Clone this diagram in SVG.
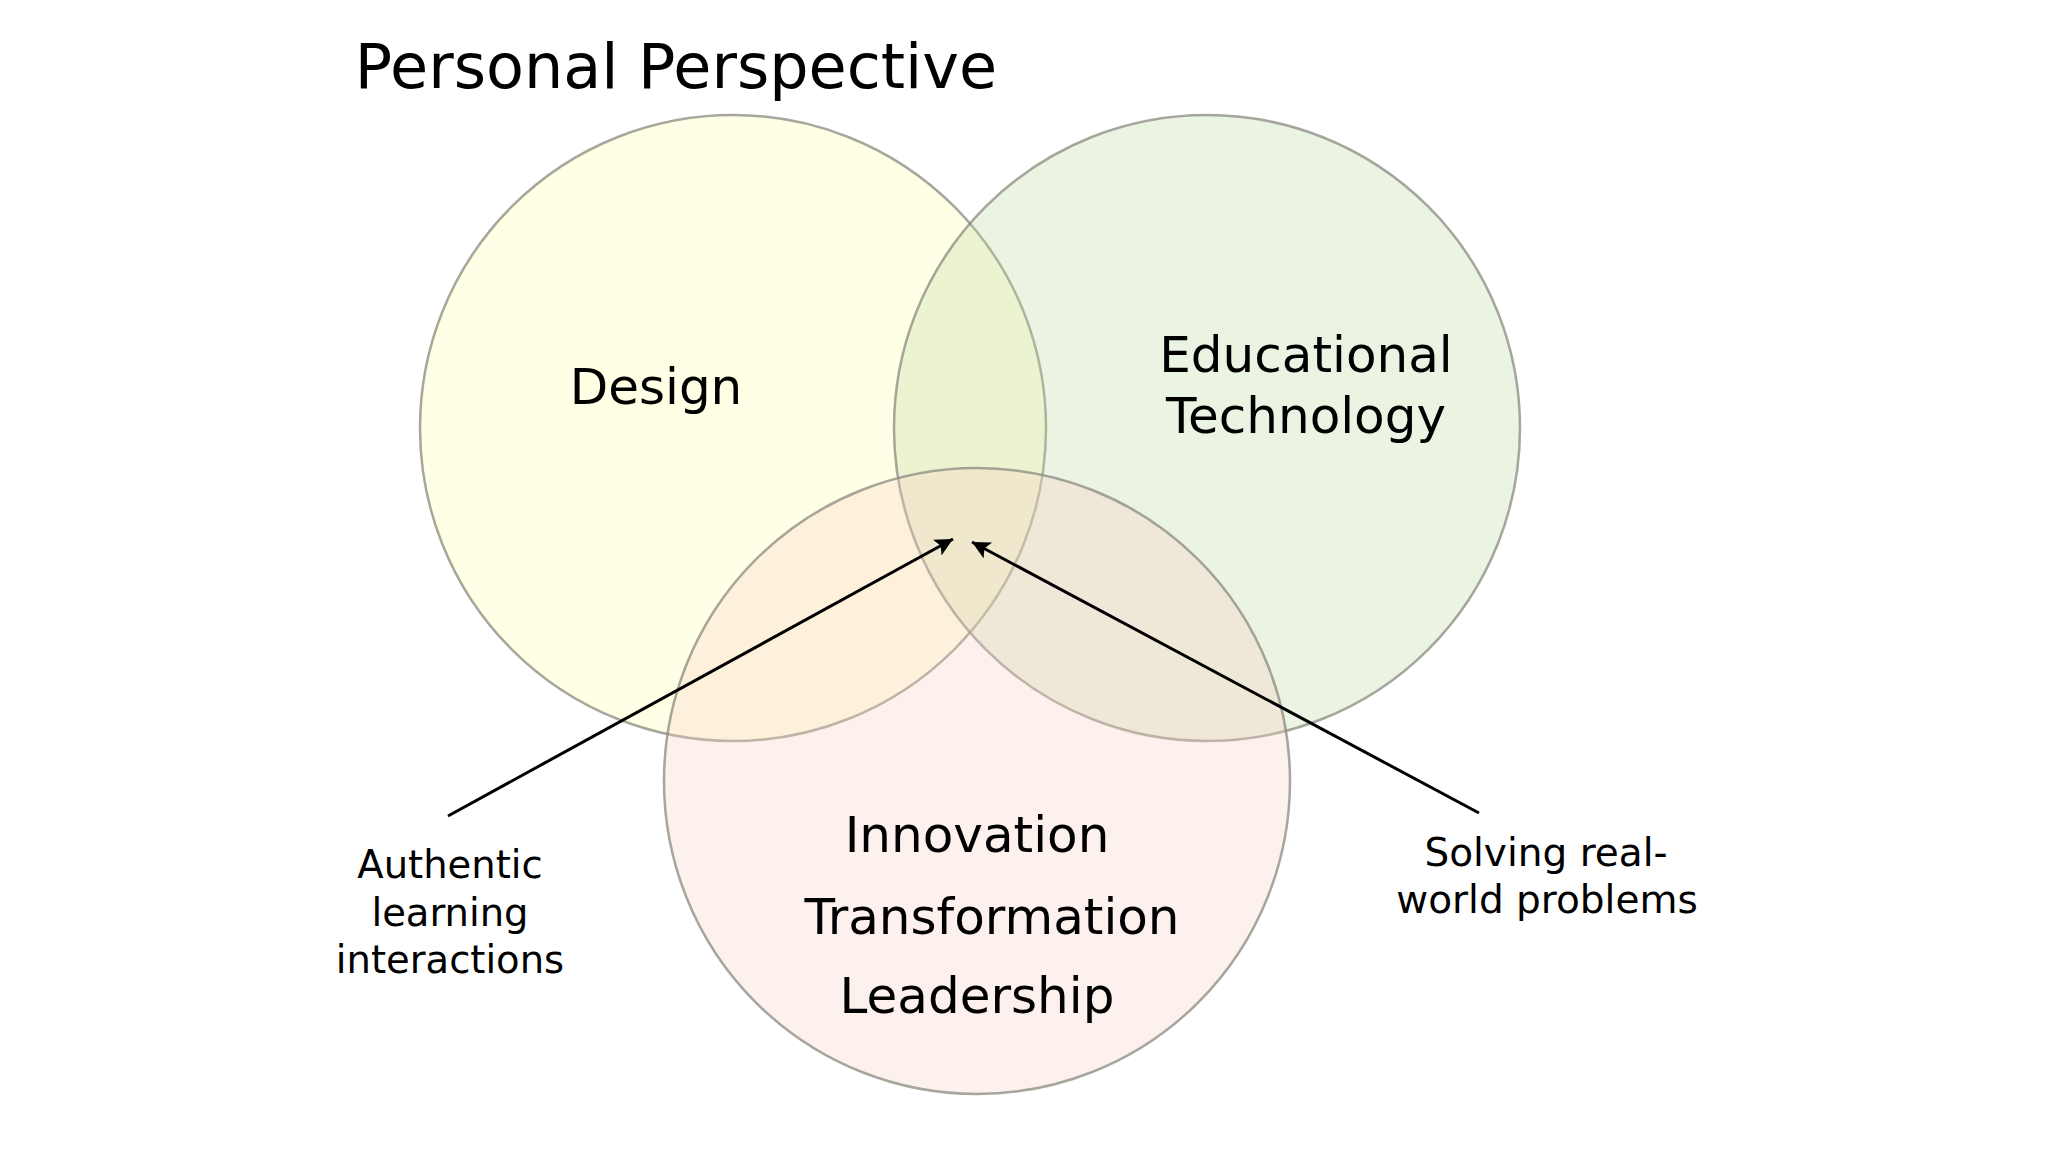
<svg xmlns="http://www.w3.org/2000/svg" width="2048" height="1152" viewBox="0 0 2048 1152">
<style>
.t{font-family:"DejaVu Sans","Liberation Sans",sans-serif;fill:#000;text-anchor:middle}
.c{stroke:#8a8a80;stroke-opacity:0.75;stroke-width:2.5}
.conn{stroke:#000;stroke-width:3;fill:none;marker-end:url(#ah)}
</style>
<defs>
<marker id="ah" markerUnits="userSpaceOnUse" markerWidth="24" markerHeight="20" refX="18" refY="9" orient="auto">
<path d="M0,0 L18,9 L0,18 L4,9 Z" fill="#000"/>
</marker>
</defs>
<rect width="2048" height="1152" fill="#fff"/>
<text class="t" x="676" y="88" style="font-size:62px">Personal Perspective</text>
<g id="design">
<circle class="c" cx="733" cy="428" r="313" fill="#FFFF99" fill-opacity="0.25"/>
</g>
<g id="edtech">
<circle class="c" cx="1207" cy="428" r="313" fill="#BCD79E" fill-opacity="0.3"/>
</g>
<g id="itl">
<circle class="c" cx="977" cy="781" r="313" fill="#F8D2C2" fill-opacity="0.3"/>
</g>
<g id="labels">
<text class="t" x="656" y="404" style="font-size:50px">Design</text>
<text class="t" x="1306" y="372" style="font-size:50px">Educational</text>
<text class="t" x="1306" y="433" style="font-size:50px">Technology</text>
<text class="t" x="977" y="852" style="font-size:50px">Innovation</text>
<text class="t" x="992" y="934" style="font-size:50px">Transformation</text>
<text class="t" x="977" y="1013" style="font-size:50px">Leadership</text>
</g>
<g id="authentic">
<text class="t" x="450" y="878" style="font-size:38.5px">Authentic</text>
<text class="t" x="450" y="926" style="font-size:38.5px">learning</text>
<text class="t" x="450" y="973" style="font-size:38.5px">interactions</text>
</g>
<g id="solving">
<text class="t" x="1546" y="866" style="font-size:39px">Solving real-</text>
<text class="t" x="1547" y="913" style="font-size:39px">world problems</text>
</g>
<g id="connectors">
<line class="conn" x1="448" y1="816" x2="953" y2="539"/>
<line class="conn" x1="1479" y1="813" x2="972" y2="542"/>
</g>
</svg>
